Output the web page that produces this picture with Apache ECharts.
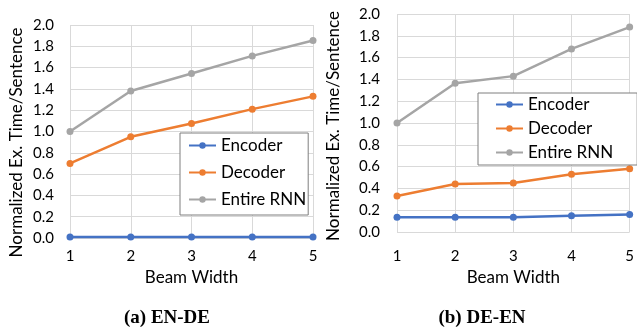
<!DOCTYPE html>
<html><head><meta charset="utf-8">
<script src="https://cdn.jsdelivr.net/npm/echarts@6/dist/echarts.min.js"></script>
<style>html,body{margin:0;padding:0;background:#fff}#c{width:637px;height:328px}</style>
</head><body><div id="c"></div>
<script>
const beamWidths = ['1','2','3','4','5'];
const seriesNames = ['Encoder','Decoder','Entire RNN'];
const enDeEncoder = [0.01, 0.01, 0.01, 0.01, 0.01];
const enDeDecoder = [0.70, 0.95, 1.075, 1.21, 1.33];
const enDeEntire = [1.0, 1.38, 1.545, 1.71, 1.855];
const deEnEncoder = [0.135, 0.135, 0.135, 0.15, 0.16];
const deEnDecoder = [0.33, 0.44, 0.45, 0.53, 0.58];
const deEnEntire = [1.0, 1.365, 1.43, 1.68, 1.88];
const yTicks = ['0.0','0.2','0.4','0.6','0.8','1.0','1.2','1.4','1.6','1.8','2.0'];
const captions = ['(a) EN-DE', '(b) DE-EN'];

const colors = ['#4472C4', '#ED7D31', '#A5A5A5'];
const font = 'Lato';
const gridColor = '#D9D9D9';

function xAxis(gi, labelMargin, nameGap) {
  return {
    type: 'category', gridIndex: gi, data: beamWidths, boundaryGap: false,
    axisLine: {show: false}, axisTick: {show: false},
    axisLabel: {color: '#000', fontFamily: font, fontSize: 15, margin: labelMargin},
    splitLine: {show: true, lineStyle: {color: gridColor, width: 1}},
    name: 'Beam Width', nameLocation: 'middle', nameGap: nameGap,
    nameTextStyle: {color: '#000', fontFamily: font, fontSize: 17}
  };
}
function yAxis(gi, labelMargin, nameGap, namePad) {
  return {
    type: 'value', gridIndex: gi, min: 0, max: 2, interval: 0.2,
    axisLine: {show: false}, axisTick: {show: false},
    axisLabel: {color: '#000', fontFamily: font, fontSize: 15, margin: labelMargin,
      formatter: (v) => yTicks[Math.round(v / 0.2)]},
    splitLine: {show: true, lineStyle: {color: gridColor, width: 1}},
    name: 'Normalized Ex. Time/Sentence', nameLocation: 'middle', nameGap: nameGap,
    nameTextStyle: {color: '#000', fontFamily: font, fontSize: 17, padding: [0, namePad, 0, 0]}
  };
}
function line(name, data, gi, ci) {
  return {
    type: 'line', name: name, data: data, xAxisIndex: gi, yAxisIndex: gi,
    symbol: 'circle', symbolSize: 7, showSymbol: true,
    lineStyle: {color: colors[ci], width: 2.5},
    itemStyle: {color: colors[ci]}, animation: false
  };
}
function legend(left, top, padding, gap) {
  return {
    left: left, top: top, orient: 'vertical', data: seriesNames,
    backgroundColor: '#fff', borderColor: '#7F7F7F', borderWidth: 1,
    padding: padding, itemWidth: 27, itemHeight: 8, itemGap: gap,
    textStyle: {color: '#000', fontFamily: font, fontSize: 17},
    selectedMode: false
  };
}
const chart = echarts.init(document.getElementById('c'), null, {renderer: 'canvas'});
chart.setOption({
  animation: false,
  color: colors,
  grid: [
    {left: 70, right: 324, top: 25, bottom: 90},
    {left: 397, right: 2, top: 14, bottom: 96}
  ],
  xAxis: [xAxis(0, 11, 31), xAxis(1, 17, 36)],
  yAxis: [yAxis(0, 16, 45, 22), yAxis(1, 17, 55, 6)],
  legend: [legend(180, 133, [4, 2, 7, 8], 10), legend(478, 93, [3, 24, 4, 17], 7)],
  title: [
    {text: captions[0], left: 162, top: 304, textAlign: 'center',
     textStyle: {fontFamily: 'Liberation Serif', fontWeight: 'bold', fontSize: 19, color: '#000'}},
    {text: captions[1], left: 477, top: 304, textAlign: 'center',
     textStyle: {fontFamily: 'Liberation Serif', fontWeight: 'bold', fontSize: 19, color: '#000'}}
  ],
  series: [
    line('Encoder', enDeEncoder, 0, 0),
    line('Decoder', enDeDecoder, 0, 1),
    line('Entire RNN', enDeEntire, 0, 2),
    line('Encoder', deEnEncoder, 1, 0),
    line('Decoder', deEnDecoder, 1, 1),
    line('Entire RNN', deEnEntire, 1, 2)
  ]
});
</script></body></html>
